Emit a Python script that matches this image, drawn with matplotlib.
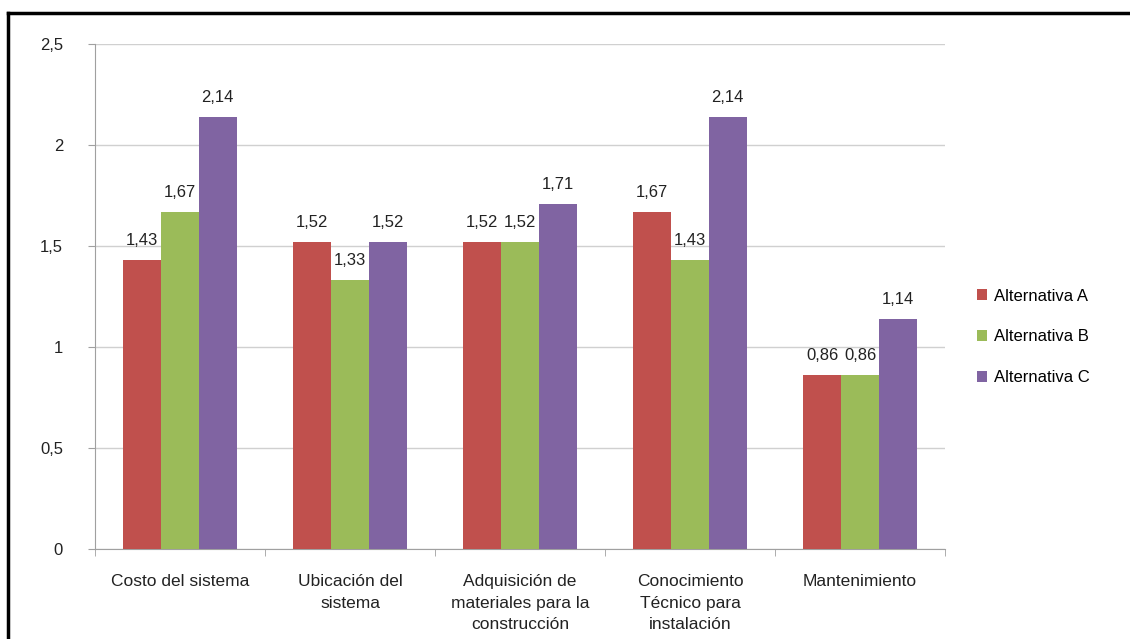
import numpy as np
import matplotlib
matplotlib.use('Agg')
from matplotlib import pyplot as plt
from matplotlib.lines import Line2D

# datos del gráfico
categorias = ['Costo del sistema', 'Ubicación del\nsistema',
              'Adquisición de\nmateriales para la\nconstrucción',
              'Conocimiento\nTécnico para\ninstalación', 'Mantenimiento']
alt_a = [1.43, 1.52, 1.52, 1.67, 0.86]
alt_b = [1.67, 1.33, 1.52, 1.43, 0.86]
alt_c = [2.14, 1.52, 1.71, 2.14, 1.14]
series = ['Alternativa A', 'Alternativa B', 'Alternativa C']
colores = ['#C0504D', '#9BBB59', '#8064A2']

plt.rcParams['font.family'] = ['Liberation Sans', 'DejaVu Sans']

fig = plt.figure(figsize=(11.3, 6.39), dpi=100)
ax = fig.add_axes([0.0841, 0.1408, 0.7522, 0.7903])

x = np.arange(len(categorias))
ancho = 1 / 4.5
for i, (vals, nombre, color) in enumerate(zip([alt_a, alt_b, alt_c], series, colores)):
	pos = x + (i - 1) * ancho
	ax.bar(pos, vals, width=ancho, color=color, label=nombre, zorder=3)
	for xp, v in zip(pos, vals):
		ax.annotate(('%.2f' % v).replace('.', ','), (xp, v), xytext=(0, 14),
		            textcoords='offset points', ha='center', va='center',
		            fontsize=12, color='#222222')

ax.set_xlim(-0.5, len(categorias) - 0.5)
ax.set_ylim(0, 2.5)
ax.set_yticks([0, 0.5, 1, 1.5, 2, 2.5])
ax.set_yticklabels(['0', '0,5', '1', '1,5', '2', '2,5'])
ax.yaxis.grid(True, color='#D0D0D0', linewidth=1, zorder=0)
ax.tick_params(axis='y', length=5, color='#A0A0A0', labelsize=12, pad=18, labelcolor='#222222')

# etiquetas de categoría y marcas entre grupos
ax.set_xticks(x)
ax.set_xticklabels(categorias, fontsize=12.5, color='#222222', va='top', linespacing=1.55)
ax.tick_params(axis='x', length=0, pad=18)
ax.set_xticks(np.arange(len(categorias) + 1) - 0.5, minor=True)
ax.tick_params(axis='x', which='minor', length=5, color='#A0A0A0')

for lado in ['top', 'right']:
	ax.spines[lado].set_visible(False)
ax.spines['left'].set_color('#A0A0A0')
ax.spines['bottom'].set_color('#A0A0A0')

leg = ax.legend(loc='center left', bbox_to_anchor=(1.02, 0.42), frameon=False,
                fontsize=12, handlelength=0.6, handleheight=0.6, handletextpad=0.4,
                labelspacing=1.55)

# marco exterior (solo izquierda y arriba visibles)
fig.add_artist(Line2D([0.0075, 0.0075], [0, 0.98], transform=fig.transFigure, color='black', lw=2.5))
fig.add_artist(Line2D([0.0075, 1.0], [0.98, 0.98], transform=fig.transFigure, color='black', lw=2.5))

fig.savefig('out.png', dpi=100)
